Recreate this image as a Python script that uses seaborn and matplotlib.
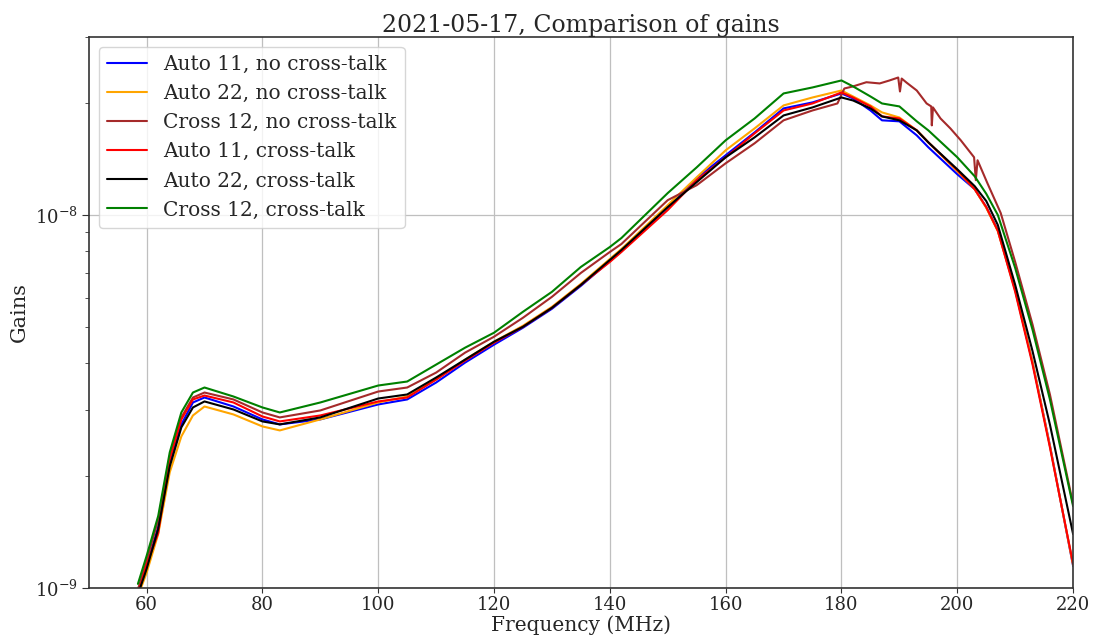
import numpy as np
import pandas as pd
import matplotlib
matplotlib.use("Agg")
import matplotlib.pyplot as plt
import seaborn as sns

# ---- data (gains in units of 1e-9) ----
freq = [58.5, 60, 62, 64, 66, 68, 70, 75, 80, 83, 90, 100, 105, 110, 115, 120,
        125, 130, 135, 140, 142, 150, 155, 160, 165, 170, 175, 180, 182, 185,
        187, 190, 193, 195, 200, 203, 205, 207, 210, 213, 216, 220]

auto11_noxt = [0.96, 1.138, 1.456, 2.145, 2.744, 3.142, 3.240, 3.065, 2.830, 2.744,
               2.830, 3.104, 3.201, 3.554, 4.019, 4.490, 4.985, 5.603, 6.456, 7.529,
               8.007, 10.50, 12.55, 14.46, 16.65, 19.31, 20.04, 21.18, 20.54, 19.07,
               17.94, 17.83, 16.35, 15.19, 12.86, 11.73, 10.50, 9.10, 6.30, 4.02,
               2.41, 1.145]
auto22_noxt = [0.95, 1.097, 1.394, 2.042, 2.548, 2.900, 3.065, 2.918, 2.710, 2.644,
               2.830, 3.142, 3.260, 3.620, 4.094, 4.573, 5.047, 5.672, 6.535, 7.622,
               8.106, 10.63, 12.62, 14.91, 17.07, 19.67, 20.66, 21.57, 20.79, 19.67,
               18.84, 18.26, 16.86, 15.66, 13.10, 11.73, 10.45, 9.05, 6.28, 4.03,
               2.40, 1.15]
auto11_xt = [0.96, 1.152, 1.403, 2.212, 2.830, 3.201, 3.280, 3.142, 2.882, 2.795,
             2.900, 3.162, 3.240, 3.620, 4.069, 4.545, 5.015, 5.638, 6.495, 7.483,
             7.958, 10.31, 12.40, 14.28, 16.55, 19.07, 19.91, 21.31, 20.66, 19.55,
             18.38, 18.15, 16.86, 15.66, 13.18, 11.73, 10.50, 9.07, 6.22, 3.97,
             2.38, 1.159]
auto22_xt = [0.96, 1.124, 1.438, 2.119, 2.694, 3.047, 3.162, 3.009, 2.795, 2.744,
             2.865, 3.220, 3.301, 3.665, 4.094, 4.573, 5.015, 5.638, 6.495, 7.576,
             8.057, 10.50, 12.25, 14.28, 16.15, 18.49, 19.43, 20.66, 20.28, 19.31,
             18.38, 17.94, 16.86, 15.66, 13.26, 11.95, 10.90, 9.40, 6.495, 4.31,
             2.74, 1.394]
cross12_xt = [1.025, 1.218, 1.558, 2.310, 2.954, 3.341, 3.446, 3.260, 3.047, 2.954,
              3.142, 3.489, 3.576, 3.970, 4.407, 4.834, 5.501, 6.222, 7.256, 8.206,
              8.674, 11.45, 13.42, 15.86, 18.15, 21.18, 21.98, 22.95, 22.12, 20.79,
              19.91, 19.55, 17.83, 16.86, 14.28, 12.70, 11.40, 10.00, 7.21, 4.92,
              3.20, 1.656]

# Cross 12 without cross-talk has its own (spikier) sampling
freq_cross12_noxt = [58.5, 60, 62, 64, 66, 68, 70, 75, 80, 83, 90, 100, 105, 110,
                     115, 120, 125, 130, 135, 140, 142, 150, 155, 160, 165, 170, 175,
                     179.3, 180.5, 182, 184.3, 186.6, 188.3, 189.8, 190.1, 190.4,
                     191.2, 193, 194.7, 195.5, 195.6, 195.8, 197.1, 198.8, 200.6,
                     202.9, 203.2, 203.5, 205.2, 207.5, 210, 213, 216, 220]
cross12_noxt = [0.99, 1.181, 1.520, 2.254, 2.865, 3.240, 3.341, 3.201, 2.954, 2.865,
                2.991, 3.362, 3.446, 3.779, 4.274, 4.716, 5.302, 6.033, 6.993, 7.958,
                8.360, 10.96, 12.02, 13.76, 15.57, 17.94, 19.07, 19.91, 21.84, 22.12,
                22.70, 22.53, 22.95, 23.37, 21.44, 23.22, 22.67, 21.57, 19.91, 19.55,
                17.39, 19.43, 18.15, 17.07, 15.86, 14.28, 12.40, 14.02, 12.17, 10.12,
                7.48, 5.08, 3.30, 1.677]

labels = ["Auto 11, no cross-talk", "Auto 22, no cross-talk", "Cross 12, no cross-talk",
          "Auto 11, cross-talk", "Auto 22, cross-talk", "Cross 12, cross-talk"]
colors = ["blue", "orange", "brown", "red", "black", "green"]
series = [(freq, auto11_noxt), (freq, auto22_noxt), (freq_cross12_noxt, cross12_noxt),
          (freq, auto11_xt), (freq, auto22_xt), (freq, cross12_xt)]
xticks = [60, 80, 100, 120, 140, 160, 180, 200, 220]

rows = []
for lab, (fr, vals) in zip(labels, series):
    for f, v in zip(fr, vals):
        rows.append({"Frequency": f, "Gain": v * 1e-9, "Series": lab})
df = pd.DataFrame(rows)

sns.set_style("whitegrid")
plt.rcParams["font.family"] = ["DejaVu Serif"]
plt.rcParams["mathtext.fontset"] = "dejavuserif"
plt.rcParams["axes.edgecolor"] = "#333333"
plt.rcParams["grid.color"] = "#bfbfbf"

fig, ax = plt.subplots(figsize=(10.95, 6.39), dpi=100)
fig.subplots_adjust(left=0.081, right=0.980, bottom=0.08, top=0.942)

sns.lineplot(data=df, x="Frequency", y="Gain", hue="Series", hue_order=labels,
             palette=dict(zip(labels, colors)), linewidth=1.5, ax=ax, sort=False,
             estimator=None)

ax.set_yscale("log")
ax.set_xlim(50, 220)
ax.set_ylim(1e-9, 3e-8)
ax.set_xticks(xticks)
ax.grid(True, which="major", color="#bfbfbf", linewidth=0.9)
ax.grid(False, which="minor")
ax.tick_params(axis="both", which="both", left=True, bottom=True, labelsize=13,
               color="#333333", pad=3)
ax.tick_params(axis="x", pad=2)
ax.tick_params(axis="y", which="major", length=5)
ax.tick_params(axis="y", which="minor", length=3)
for s in ax.spines.values():
    s.set_linewidth(1.2)

ax.set_title("2021-05-17, Comparison of gains", fontsize=17, pad=3)
ax.set_xlabel("Frequency (MHz)", fontsize=14.5, labelpad=1)
ax.set_ylabel("Gains", fontsize=15)
ax.legend(loc="upper left", fontsize=14.5, framealpha=0.8, title=None,
          borderaxespad=0.5, handlelength=2.0)

fig.savefig("out.png", dpi=100)
